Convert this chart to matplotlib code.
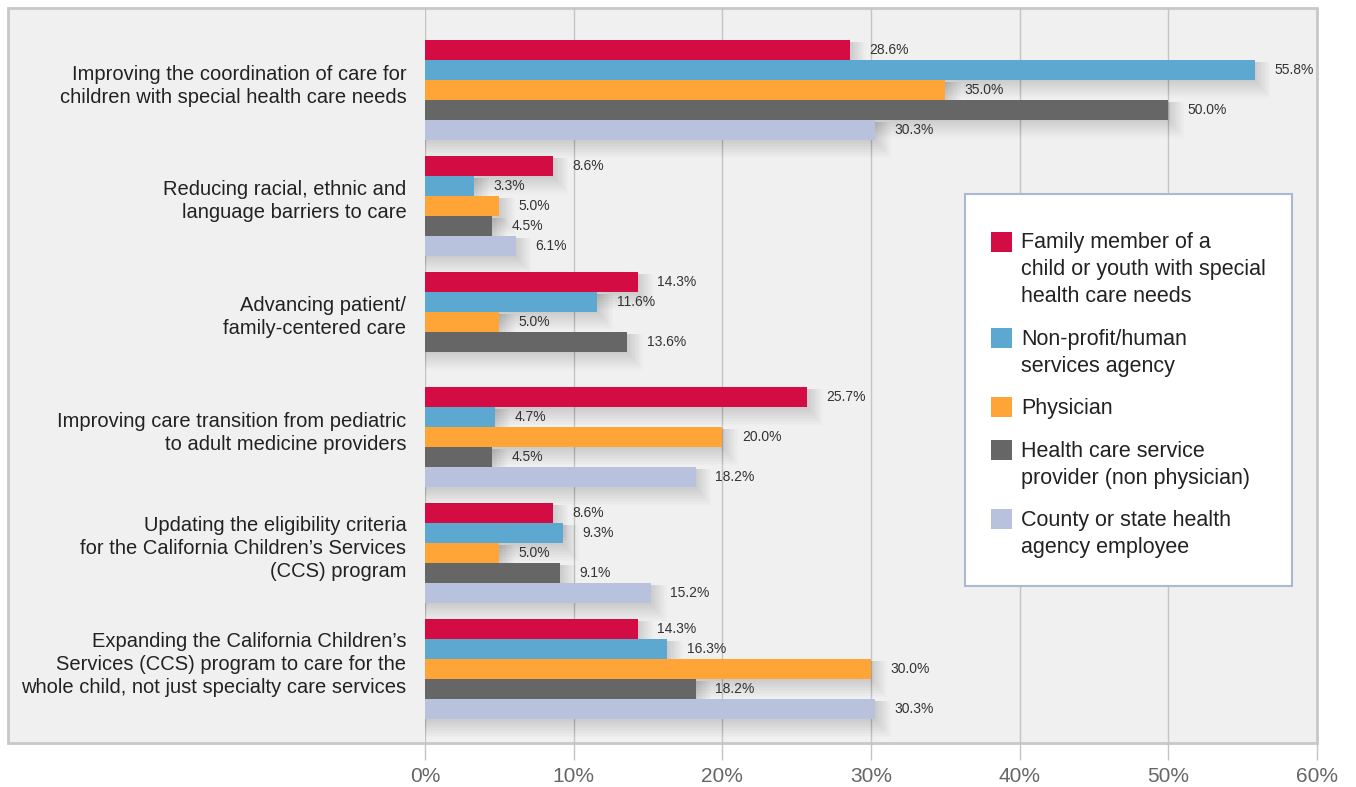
import numpy as np
import matplotlib
matplotlib.use("Agg")
import matplotlib.pyplot as plt
import matplotlib.transforms as mtransforms
from matplotlib.patches import Rectangle

plt.rcParams['font.family'] = ['Liberation Sans', 'DejaVu Sans']

categories = [
    'Improving the coordination of care for\nchildren with special health care needs',
    'Reducing racial, ethnic and\nlanguage barriers to care',
    'Advancing patient/\nfamily-centered care',
    'Improving care transition from pediatric\nto adult medicine providers',
    'Updating the eligibility criteria\nfor the California Children\u2019s Services\n(CCS) program',
    'Expanding the California Children\u2019s\nServices (CCS) program to care for the\nwhole child, not just specialty care services',
]
groups = [
    'Family member of a\nchild or youth with special\nhealth care needs',
    'Non-profit/human\nservices agency',
    'Physician',
    'Health care service\nprovider (non physician)',
    'County or state health\nagency employee',
]
family = [28.6, 8.6, 14.3, 25.7, 8.6, 14.3]
nonprofit = [55.8, 3.3, 11.6, 4.7, 9.3, 16.3]
physician = [35.0, 5.0, 5.0, 20.0, 5.0, 30.0]
provider = [50.0, 4.5, 13.6, 4.5, 9.1, 18.2]
county = [30.3, 6.1, np.nan, 18.2, 15.2, 30.3]
xticks = [0, 10, 20, 30, 40, 50, 60]
colors = ['#d30d44', '#5ca8d0', '#ffa538', '#666666', '#b9c2dc']

W, H = 1356, 787
fig = plt.figure(figsize=(W / 100, H / 100), dpi=100)


def fx(px):
    return px / W


def fy(py):
    return 1 - py / H


# grey panel behind the plot
fig.add_artist(Rectangle((fx(8), fy(743)), fx(1317) - fx(8), fy(8) - fy(743),
                         transform=fig.transFigure, facecolor='#f0f0f0',
                         edgecolor='#c8c8c8', lw=2, zorder=-1))

ax = fig.add_axes([fx(425), fy(743), fx(1317) - fx(425), fy(8) - fy(743)])
ax.patch.set_visible(False)
for s in ax.spines.values():
    s.set_visible(False)

pitch = 116.0          # pixels per group
h = 20 / pitch         # bar height
px_x = 60 / 892        # one pixel in x data units
px_y = 1 / pitch       # one pixel in y data units
y0 = np.arange(len(categories))

series = [family, nonprofit, physician, provider, county]
for j, (vals, c) in enumerate(zip(series, colors)):
    vals = np.array(vals, float)
    ok = np.isfinite(vals)
    yy = y0[ok] + (j - 2) * h
    vv = vals[ok]
    # soft drop shadow
    for k in range(1, 13):
        top = yy - h / 2 + 2 * px_y
        bot = yy + h / 2 + 1.5 * k * px_y
        ax.barh((top + bot) / 2, vv + 1.3 * k * px_x, height=bot - top, left=0,
                color='black', alpha=0.011, lw=0, zorder=2 + 2 * j)
    ax.barh(yy, vv, height=h, color=c, lw=0, zorder=3 + 2 * j)
    for v, y in zip(vv, yy):
        ax.annotate(f'{v:.1f}%', (v, y), xytext=(14, 0), textcoords='offset points',
                    va='center', ha='left', fontsize=10, color='#333333', zorder=20)

ax.set_xlim(0, 60)
ax.set_ylim(5 + 74 / pitch, -82 / pitch)
ax.set_xticks(xticks, [f'{t}%' for t in xticks])
ax.grid(axis='x', color='#c4c4c4', lw=1, zorder=1)
ax.set_axisbelow(True)
ax.tick_params(axis='x', length=12, width=1, color='#c4c4c4', labelsize=15,
               labelcolor='#666666', pad=5)
ax.set_yticks(y0, categories)
ax.tick_params(axis='y', length=0, pad=13.5, labelsize=14.5, labelcolor='#222222')
lift = mtransforms.ScaledTranslation(0, 6 / 72, fig.dpi_scale_trans)
for t in ax.get_yticklabels():
    t.set_linespacing(1.27)
    t.set_transform(t.get_transform() + lift)

# legend box drawn by hand
fig.add_artist(Rectangle((fx(965), fy(586)), fx(1292) - fx(965), fy(194) - fy(586),
                         transform=fig.transFigure, facecolor='white',
                         edgecolor='#aab8d2', lw=1.5, zorder=5))
sq_centers = [241.7, 337.7, 406.7, 450, 519]
line_px = 26.5
for label, c, cy in zip(groups, colors, sq_centers):
    fig.add_artist(Rectangle((fx(991), fy(cy + 10)), fx(1012) - fx(991), fy(cy - 10) - fy(cy + 10),
                             transform=fig.transFigure, facecolor=c, lw=0, zorder=6))
    n = label.count('\n')
    fig.text(fx(1021), fy(cy + 7.5 + n * line_px), label, ha='left', va='baseline',
             fontsize=15.5, color='#222222', linespacing=1.37, zorder=7)

fig.savefig('out.png', dpi=100)
